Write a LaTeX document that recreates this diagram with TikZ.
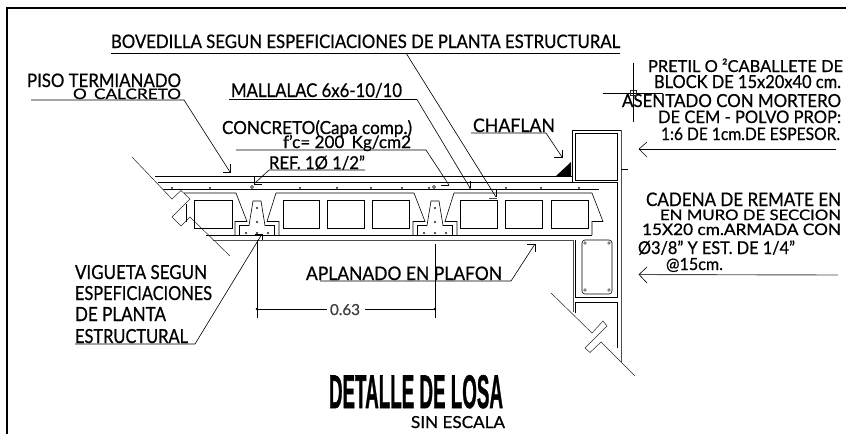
\documentclass[tikz,border=0pt]{standalone}
\usepackage{graphicx}
\usepackage{fontspec}
\setmainfont{Lato}[FakeBold=0.7]
\newfontfamily\titlefont{Liberation Sans}[FakeBold=1.2]
\newcommand{\fit}[3]{\resizebox{#1pt}{#2pt}{#3}}
\tikzset{
  lbl/.style={anchor=base west,inner sep=0pt,outer sep=0pt,font=\fontsize{14}{14}\selectfont,text=black},
  ln/.style={draw=black,line width=0.6pt},
  thin line/.style={draw=black!85,line width=0.5pt},
  heavy/.style={draw=black!70,line width=0.9pt},
  frame line/.style={draw=black,line width=2pt},
  ring/.style={draw=black,fill=white,line width=0.4pt},
}
\begin{document}
\begin{tikzpicture}[x=1pt,y=-1pt]
\useasboundingbox (0,0) rectangle (846,434);
\fill[white] (0,0) rectangle (846,434);
% frame
\draw[frame line] (6.5,434) -- (6.5,7.5) -- (846,7.5);

% slab lines
\draw[ln] (155,176) -- (572,176);
\draw[ln] (158,182.5) -- (618,182.5);
\draw[ln] (163,189) -- (599,189);
% bottom of slab
\draw[ln] (206,235.5) -- (592,235.5);
\draw[heavy] (213,240) -- (573,240);

% left break line
\draw[thin line] (132,157) -- (172,199) -- (181,190.5) -- (190,199) -- (172,217) -- (181,226) -- (190,217) -- (230,256);
\draw[ln] (186,204) -- (186,222);

% block outlines
\draw[ln] (184,193) -- (236,193) -- (247,221.5) -- (235,221.5) -- (235,235);
\draw[ln] (279,235) -- (279,221.5) -- (267,221.5) -- (276,193) -- (414,193) -- (425,221.5) -- (413,221.5) -- (413,235);
\draw[ln] (457,235) -- (457,221.5) -- (445,221.5) -- (454,193) -- (592,193) -- (603,221.5) -- (592,221.5) -- (592,235);

% hollow cores
\foreach \a/\b in {194/232,283/319,327/364,372/409,460/497,505/542,551/588}
  \draw[ln] (\a,200) rectangle (\b,228.5);

% joists
\foreach \s in {0,178}{
  \begin{scope}[xshift=\s pt]
    \draw[ln] (239.5,235) -- (239.5,225.5) -- (249,225.5) -- (253,201) -- (261,201) -- (265,225.5) -- (274.5,225.5) -- (274.5,235);
    \foreach \p/\q in {257/208,257/222,246/233,257/233,268/233}
      \draw[ring] (\p,\q) circle (0.9pt);
  \end{scope}
}

% top bars
\foreach \p in {172,210,300,337,371,402,429,470,506,541,579}
  \fill (\p,187.8) circle (1pt);
\draw[ring] (252,187) circle (1.5pt);
\draw[ring] (434,187) circle (1.5pt);

% wall and parapet
\draw[ln] (572,182) -- (572,130) -- (621,130);
\draw[heavy] (621,130) -- (621,362);
\draw[ln] (575,133) rectangle (617,180);
\draw[ln] (621,169) -- (628,169);
\draw[ln] (617,182) -- (617,297) -- (575,297) -- (575,240);
\draw[heavy] (573,240) -- (573,312);
\draw[ln] (575,313) -- (575,302) -- (617,302) -- (617,348);
\fill[black] (556,176) -- (571,162) -- (571,176) -- cycle;

% stirrup
\draw[ln,rounded corners=3pt] (582,240) rectangle (612,294);
\foreach \p/\q in {585/243,609/243,585/290,609/290}
  \draw[ring] (\p,\q) circle (1.3pt);

% right break line
\draw[thin line] (551,293) -- (592,333) -- (603,321) -- (607,326) -- (585,348) -- (590,352.5) -- (601,342) -- (635,376);

% labels
\node[lbl] (bov) at (111,48) {\fit{509}{13.5}{BOVEDILLA SEGUN ESPEFICIACIONES DE PLANTA ESTRUCTURAL}};
\node[lbl] (piso1) at (27,87) {\fit{154}{13.5}{PISO TERMIANADO}};
\node[lbl] (piso2) at (73,99) {\fit{108}{10.5}{O\, CALCRETO}};
\node[lbl] (mall) at (231,97) {\fit{171}{14}{MALLALAC 6x6-10/10}};
\node[lbl] (conc1) at (222,134) {\fit{190}{14}{CONCRETO(Capa comp.)}};
\node[lbl] (conc2) at (283,148) {\fit{128}{13}{f'c= 200\, Kg/cm2}};
\node[lbl] (refb) at (269,169) {\fit{96}{13.5}{REF. 1Ø 1/2"}};
\node[lbl] (chaf) at (473,132) {\fit{82}{13.5}{CHAFLAN}};
\node[lbl] (pre1) at (648,72) {\fit{195}{13.5}{PRETIL O ²CABALLETE DE}};
\node[lbl] (pre2) at (654,88) {\fit{187}{13}{BLOCK DE 15x20x40 cm.}};
\node[lbl] (pre3) at (622,107) {\fit{219}{13}{ASENTADO CON MORTERO}};
\node[lbl] (pre4) at (658,123) {\fit{183}{12.5}{DE CEM - POLVO PROP:}};
\node[lbl] (pre5) at (661,140) {\fit{179}{12.5}{1:6 DE 1cm.DE ESPESOR.}};
\node[lbl] (cad1) at (646,206) {\fit{195}{13.5}{CADENA DE REMATE EN}};
\node[lbl] (cad2) at (660,220) {\fit{181}{10.5}{EN MURO DE SECCION}};
\node[lbl] (cad3) at (642,235) {\fit{199}{11.5}{15X20 cm.ARMADA CON}};
\node[lbl] (cad4) at (638,254) {\fit{157}{13.5}{Ø3/8" Y EST. DE 1/4"}};
\node[lbl] (cad5) at (666,270) {\fit{57}{12}{@15cm.}};
\node[lbl] (vig1) at (75,279) {\fit{132}{14}{VIGUETA SEGUN}};
\node[lbl] (vig2) at (75,300) {\fit{137}{14}{ESPEFICIACIONES}};
\node[lbl] (vig3) at (75,321) {\fit{91}{14}{DE PLANTA}};
\node[lbl] (vig4) at (75,343) {\fit{113}{14}{ESTRUCTURAL}};
\node[lbl] (apl) at (306,280) {\fit{196}{13.5}{APLANADO EN PLAFON}};
\node[lbl,text=black!75] (dim) at (330,315) {\resizebox{30pt}{11pt}{0.63}};
\node[lbl] (tit) at (329,408) {\resizebox{174pt}{33pt}{\titlefont\bfseries DETALLE DE LOSA}};
\node[lbl] (sin) at (411,428) {\fit{94}{12}{SIN ESCALA}};

% leaders with underlines
\coordinate (tBov) at (496,197);
\draw[ln] (111,53) -- (620,53);
\draw[ln] (406,53) -- (tBov);
\draw[heavy] (489,198) -- (497,198);
\draw[ln] (496,190) -- (tBov);

\coordinate (tPiso) at (230,172);
\draw[ln] (31,100) -- (184,100) -- (tPiso);
\draw[ln] (223,172) -- (tPiso) -- (230,164);

\coordinate (tMall) at (470,188);
\draw[ln] (229,99.5) -- (417,99.5) -- (tMall);
\draw[ln] (470,181) -- (tMall);

\coordinate (tConc) at (449,185);
\draw[ln] (236,150) -- (426,150) -- (tConc);
\draw[ln] (441,185) -- (tConc);

\coordinate (tRef) at (254,184);
\draw[ln] (365,170) -- (269,170) -- (tRef);
\draw[ln] (254,177) -- (tRef) -- (262,184);

\coordinate (tChaf) at (562,157);
\draw[ln] (471,133) -- (546,133) -- (tChaf);
\draw[ln] (554,157) -- (tChaf) -- (562,150);

\coordinate (tPre) at (639,149);
\draw[ln] (836,149) -- (tPre);
\draw[ln] (647,142) -- (tPre) -- (647,157);

\coordinate (tCad) at (639,274.5);
\draw[heavy] (838,275) -- (tCad);
\draw[ln] (647,267) -- (tCad) -- (647,283);

\coordinate (tVig) at (262,234);
\draw[ln] (75,344) -- (195,344) -- (tVig);
\draw[ln] (255,234) -- (tVig) -- (262,240);

\coordinate (tApl) at (535,244);
\draw[ln] (320,281) -- (511,281) -- (tApl);
\draw[ln] (527,244) -- (tApl) -- (535,252);

% crosshair
\draw[ln] (633,63) -- (633,122);
\draw[ln] (603,93) -- (663,93);
\draw[thin line] (630,90) rectangle (636,95);

% dimension
\coordinate (dL) at (257,309);
\coordinate (dR) at (435,309);
\coordinate (dGapL) at (327,309);
\coordinate (dGapR) at (365,309);
\draw[ln] (257,240) -- (257,318);
\draw[ln] (435,244) -- (435,318);
\draw[ln] (dL) -- (dGapL);
\draw[ln] (dGapR) -- (dR);
\fill (dL) circle (1.3pt) (dR) circle (1.3pt);
\end{tikzpicture}
\end{document}
